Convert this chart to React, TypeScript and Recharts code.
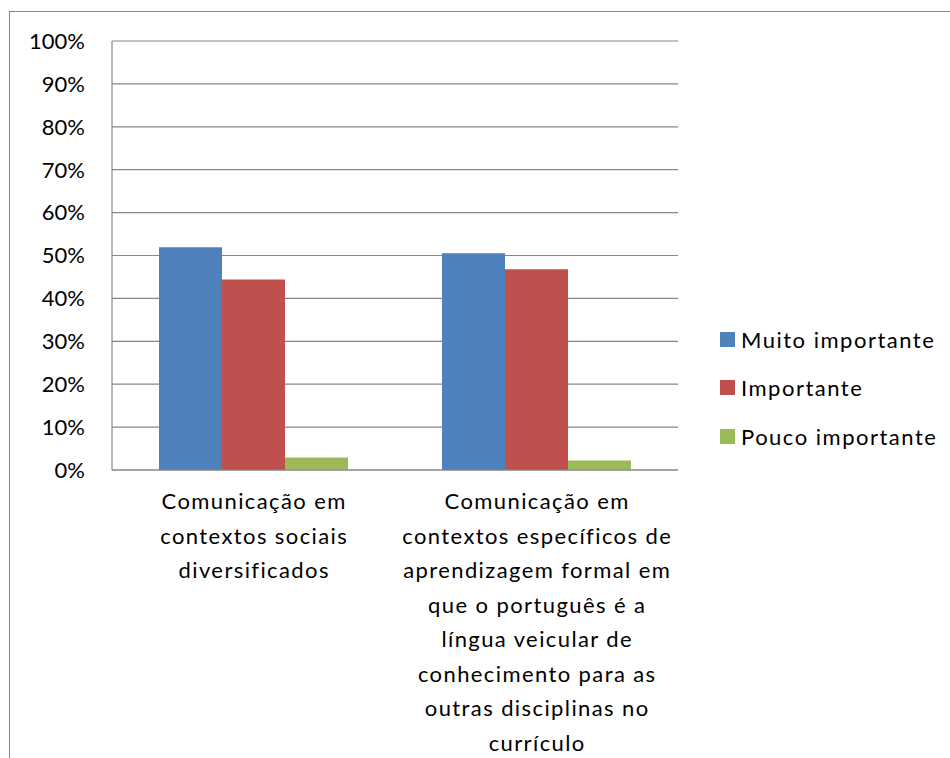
import React from 'react';
import { BarChart, Bar, XAxis, YAxis, CartesianGrid } from 'recharts';

const categories = [
  'Comunicação em contextos sociais diversificados',
  'Comunicação em contextos específicos de aprendizagem formal em que o português é a língua veicular de conhecimento para as outras disciplinas no currículo',
];
const categoryLines = [
  ['Comunicação em', 'contextos sociais', 'diversificados'],
  ['Comunicação em', 'contextos específicos de', 'aprendizagem formal em', 'que o português é a', 'língua veicular de', 'conhecimento para as', 'outras disciplinas no', 'currículo'],
];
const muitoImportante = [51.9, 50.5];
const importante = [44.4, 46.8];
const poucoImportante = [2.9, 2.2];
const yTicks = [0, 10, 20, 30, 40, 50, 60, 70, 80, 90, 100];
const seriesNames = ['Muito importante', 'Importante', 'Pouco importante'];
const seriesColors = ['#4F81BD', '#C0504D', '#9BBB59'];

const data = categories.map((c, i) => ({
  name: c,
  muito: muitoImportante[i],
  imp: importante[i],
  pouco: poucoImportante[i],
}));

const FONT = 'Lato, sans-serif';

const XTick = (props: any) => {
  const { x, y, payload } = props;
  const idx = categories.indexOf(payload.value);
  const lines = idx >= 0 ? categoryLines[idx] : [payload.value];
  return (
    <text x={x + 0.7} y={y} textAnchor="middle" fill="#000" fontFamily={FONT} fontSize={22} style={{ letterSpacing: 1.4 }}>
      {lines.map((l: string, i: number) => (
        <tspan key={i} x={x + 0.7} dy={i === 0 ? 39 : 34.5}>{l}</tspan>
      ))}
    </text>
  );
};

const ChartLegend = () => (
  <div style={{ position: 'absolute', left: 720, top: 315, fontFamily: FONT, fontSize: 22, color: '#000', letterSpacing: 1.5 }}>
    {seriesNames.map((n, i) => (
      <div key={n} style={{ height: 48.5, display: 'flex', alignItems: 'center', whiteSpace: 'nowrap' }}>
        <span style={{ width: 15, height: 15, background: seriesColors[i], display: 'inline-block', marginRight: 6 }} />
        <span>{n}</span>
      </div>
    ))}
  </div>
);

export default function App() {
  return (
    <div style={{ position: 'absolute', left: 0, top: 0, width: 950, height: 758, overflow: 'hidden', background: '#fff' }}>
      <div style={{ position: 'absolute', left: 9, top: 11, width: 1000, height: 800, borderTop: '1.5px solid #868686', borderLeft: '1.5px solid #868686' }} />
      <div style={{ position: 'absolute', left: 0, top: 0 }}>
        <BarChart
          width={950}
          height={758}
          data={data}
          margin={{ top: 41, right: 272, bottom: 0, left: 0 }}
          barCategoryGap={47}
          barGap={0}
        >
          <CartesianGrid vertical={false} stroke="#878787" strokeWidth={1.2} />
          <XAxis
            dataKey="name"
            tick={<XTick />}
            tickLine={false}
            tickSize={0}
            tickMargin={0}
            axisLine={{ stroke: '#878787', strokeWidth: 1.2 }}
            interval={0}
            height={288}
          />
          <YAxis
            width={112}
            domain={[0, 100]}
            ticks={yTicks}
            tickFormatter={(v: number) => `${v}%`}
            tickLine={false}
            tickSize={0}
            tickMargin={27}
            axisLine={{ stroke: '#878787', strokeWidth: 1.2 }}
            tick={{ fill: '#000', fontFamily: FONT, fontSize: 22 }}
            interval={0}
          />
          <Bar dataKey="muito" name={seriesNames[0]} fill={seriesColors[0]} isAnimationActive={false} />
          <Bar dataKey="imp" name={seriesNames[1]} fill={seriesColors[1]} isAnimationActive={false} />
          <Bar dataKey="pouco" name={seriesNames[2]} fill={seriesColors[2]} isAnimationActive={false} />
        </BarChart>
      </div>
      <ChartLegend />
    </div>
  );
}
